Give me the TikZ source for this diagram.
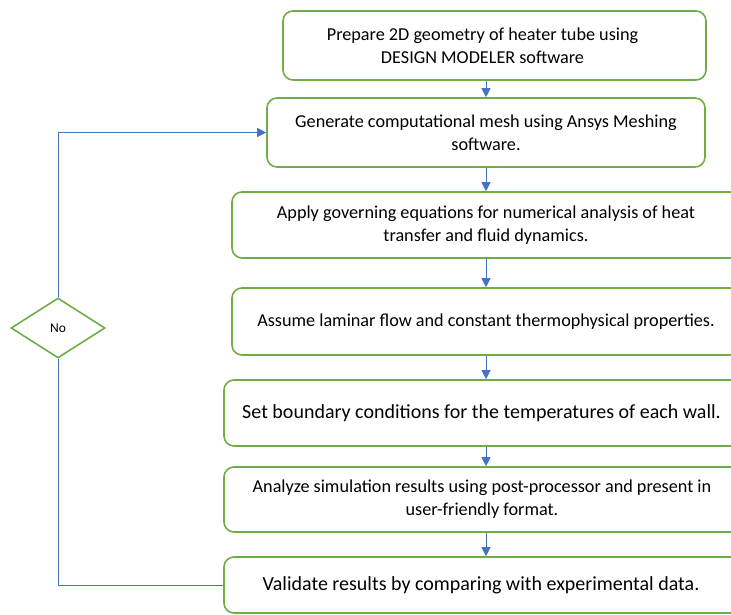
\documentclass[tikz,border=0pt]{standalone}
\usepackage{fontspec}
\setmainfont{Carlito}
\usetikzlibrary{shapes.geometric,arrows.meta}
\definecolor{boxgreen}{RGB}{112,173,71}
\definecolor{flowblue}{RGB}{68,114,196}
\tikzset{
  procbox/.style={draw=boxgreen,line width=1.6pt,rounded corners=10pt,align=center,inner sep=0pt,font=\fontsize{18.2}{23}\selectfont},
  bigtext/.style={font=\fontsize{20}{24}\selectfont},
  decbox/.style={draw=boxgreen,line width=1.6pt,diamond,inner sep=0pt,minimum width=94pt,minimum height=60pt,font=\fontsize{13.5}{16}\selectfont},
  flow/.style={draw=flowblue,line width=0.8pt,-{Triangle[length=9pt,width=9pt]}},
  loopline/.style={draw=flowblue,line width=0.8pt}
}
\begin{document}
\begin{tikzpicture}[x=1pt,y=1pt,yscale=-1,xscale=1]
\useasboundingbox (0,0) rectangle (731,615);
\clip (0,0) rectangle (731,615);

%Flowchart: Process
\node (b1) [procbox,minimum width=423pt,minimum height=69pt] at (494.5,45.5) {\hspace*{-24pt}Prepare 2D geometry of heater tube using\\\hspace*{-24pt}DESIGN MODELER software};
%Flowchart: Process
\node (b2) [procbox,minimum width=438pt,minimum height=69pt] at (486,132.5) {Generate computational mesh using Ansys Meshing\\software.};
%Flowchart: Process
\node (b3) [procbox,minimum width=508pt,minimum height=66pt] at (486,225) {Apply governing equations for numerical analysis of heat\\transfer and fluid dynamics.};
%Flowchart: Process
\node (b4) [procbox,minimum width=508pt,minimum height=67pt] at (486,321.5) {Assume laminar flow and constant thermophysical properties.};
%Flowchart: Process
\node (b5) [procbox,bigtext,minimum width=524pt,minimum height=66pt] at (486,413) {\hspace*{-9pt}Set boundary conditions for the temperatures of each wall.};
%Flowchart: Process
\node (b6) [procbox,minimum width=524pt,minimum height=65pt] at (486,499.5) {\hspace*{-8pt}Analyze simulation results using post-processor and present in\\\hspace*{-8pt}user-friendly format.};
%Flowchart: Process
\node (b7) [procbox,bigtext,minimum width=524pt,minimum height=56pt] at (486,585) {\hspace*{-10pt}Validate results by comparing with experimental data.};
%Flowchart: Decision
\node (no) [decbox] at (58,328) {No};

%Straight Lines
\draw [flow] (b1.south -| b2.north) -- (b2.north);
\draw [flow] (b2.south) -- (b3.north);
\draw [flow] (b3.south) -- (b4.north);
\draw [flow] (b4.south) -- (b5.north);
\draw [flow] (b5.south) -- (b6.north);
\draw [flow] (b6.south) -- (b7.north);

%Straight Lines
\draw [loopline] (b7.west) -| (no.south);
\draw [flow] (no.north) |- (b2.west);

\end{tikzpicture}
\end{document}
